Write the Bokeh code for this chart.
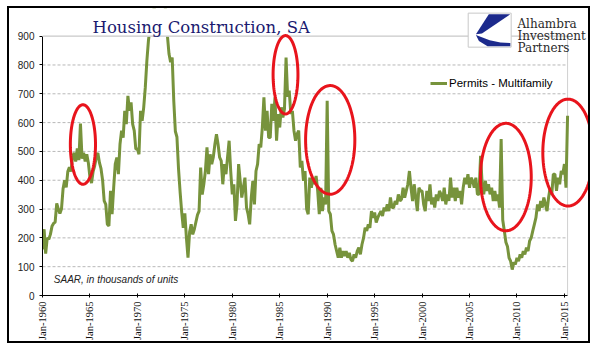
import numpy as np
from bokeh.plotting import figure
from bokeh.models import (Range1d, FixedTicker, Label, Legend, LegendItem,
                          PolyAnnotation, BoxAnnotation)
from bokeh.embed import file_html
from bokeh.resources import INLINE

# ---- data: multifamily permits, SAAR (thousands), every 2 months from Jan-1960 ----
v1960s = [
    160, 230, 145, 200, 195, 212,   # 1960
    240, 250, 255, 320, 300, 285,   # 1961
    300, 370, 400, 375, 430, 445,   # 1962
    430, 480, 495, 465, 510, 470,   # 1963
    597, 475, 495, 465, 490, 460,   # 1964
    410, 390, 430, 450, 480, 495,   # 1965
    461, 440, 400, 328, 316, 247,   # 1966
    241, 363, 282, 374, 456, 479,   # 1967
    421, 525, 572, 548, 641, 595,   # 1968
    693, 641, 670, 595, 572, 508,   # 1969
]
v1970s = [
    508, 490, 641, 606, 653, 722,   # 1970
    815, 885, 930, 960, 990, 1000,  # 1971
    1020, 1050, 1080, 1060, 1040, 1030,  # 1972
    980, 900, 838, 810, 826, 676,   # 1973
    570, 550, 440, 360, 290, 235,   # 1974
    285, 200, 131, 220, 247, 212,   # 1975
    230, 255, 280, 293, 444, 350,   # 1976
    386, 432, 514, 421, 490, 456,   # 1977
    480, 525, 560, 525, 479, 467,   # 1978
    386, 456, 421, 479, 537, 432,   # 1979
]
v1980s = [
    351, 386, 259, 316, 456, 398,   # 1980
    340, 374, 409, 305, 282, 247,   # 1981
    340, 398, 316, 432, 456, 525,   # 1982
    514, 583, 688, 572, 641, 548,   # 1983
    548, 665, 606, 688, 537, 630,   # 1984
    583, 653, 618, 647, 826, 690,   # 1985
    711, 630, 641, 572, 537, 560,   # 1986
    572, 444, 467, 398, 432, 300,   # 1987
    282, 409, 374, 409, 386, 415,   # 1988
    363, 282, 374, 293, 340, 316,   # 1989
]
v1990s = [
    676, 293, 282, 224, 212, 177,   # 1990
    154, 131, 166, 131, 154, 137,   # 1991
    154, 131, 148, 125, 119, 143,   # 1992
    131, 154, 166, 143, 177, 200,   # 1993
    235, 224, 247, 235, 293, 270,   # 1994
    288, 253, 270, 282, 293, 276,   # 1995
    305, 293, 316, 293, 340, 305,   # 1996
    305, 328, 316, 351, 328, 334,   # 1997
    374, 340, 363, 386, 432, 374,   # 1998
    328, 386, 340, 293, 374, 363,   # 1999
]
v2000s = [
    363, 316, 293, 363, 328, 386,   # 2000
    316, 340, 305, 351, 328, 363,   # 2001
    351, 328, 374, 316, 351, 328,   # 2002
    409, 340, 374, 328, 374, 340,   # 2003
    363, 316, 374, 409, 386, 421,   # 2004
    374, 409, 398, 374, 409, 351,   # 2005
    351, 485, 386, 351, 398, 363,   # 2006
    386, 351, 374, 328, 363, 328,   # 2007
    351, 305, 543, 262, 225, 185,   # 2008
    170, 131, 119, 90, 115, 108,    # 2009
]
v2010s = [
    131, 119, 143, 131, 154, 143,   # 2010
    166, 154, 189, 200, 224, 247,   # 2011
    270, 316, 293, 328, 305, 340,   # 2012
    316, 293, 340, 374, 351, 421,   # 2013
    421, 363, 409, 386, 432, 421,   # 2014
    456, 374, 624,                  # 2015 (Jan, Mar, May)
]
values = v1960s + v1970s + v1980s + v1990s + v2000s + v2010s
start_year = 1960
dates = start_year + np.arange(len(values)) / 6.0
x_first, x_last = float(dates[0]), float(dates[-1])

y_ticks = [0, 100, 200, 300, 400, 500, 600, 700, 800, 900]
y_max = 900
x_ticks = [1960, 1965, 1970, 1975, 1980, 1985, 1990, 1995, 2000, 2005, 2010, 2015]
x_tick_labels = ["Jan-%d" % y for y in x_ticks]

series_name = "Permits - Multifamily"
title_text = "Housing Construction, SA"
note_text = "SAAR, in thousands of units"
logo_lines = ["Alhambra", "Investment", "Partners"]

# highlight ellipses (centre year, centre value, width in years, height in units)
ell_cx = [1964.26, 1985.61, 1990.32, 2008.83, 2015.38]
ell_cy = [524, 766, 540, 411, 496]
ell_w = [2.65, 2.62, 5.19, 5.35, 5.31]
ell_h = [276, 272, 377, 373, 371]

# ---- figure ----
GREEN = "#77933c"
GRID = "#b8b8b8"
EDGE = "#d0d0d0"
p = figure(width=583, height=337, output_backend="svg", toolbar_location=None,
           x_range=Range1d(1960, 2017.96), y_range=Range1d(0, 996),
           min_border_left=33, min_border_right=0, min_border_top=0,
           min_border_bottom=50)
p.styles = {"border": "2px solid black", "margin-left": "7px", "margin-top": "6px"}
p.background_fill_color = "white"
p.border_fill_color = "white"
p.outline_line_color = None
p.xgrid.visible = False
p.ygrid.visible = False

ya = p.yaxis[0]
ya.ticker = FixedTicker(ticks=y_ticks)
ya.bounds = (0, y_max)
ya.axis_line_color = "black"
ya.major_tick_line_color = "black"
ya.major_tick_in = 0
ya.major_tick_out = 3
ya.minor_tick_line_color = None
ya.major_label_standoff = 5
ya.major_label_text_font = "Liberation Sans"
ya.major_label_text_font_size = "10px"
ya.major_label_text_color = "#222222"

xa = p.xaxis[0]
xa.ticker = FixedTicker(ticks=x_ticks)
xa.bounds = (x_first, x_last)
xa.major_label_overrides = {t: l for t, l in zip(x_ticks, x_tick_labels)}
xa.major_label_orientation = np.pi / 2
xa.axis_line_color = "black"
xa.major_tick_line_color = "black"
xa.major_tick_in = 2
xa.major_tick_out = 2
xa.minor_tick_line_color = None
xa.major_label_standoff = 4
xa.major_label_text_font = "Liberation Serif"
xa.major_label_text_font_size = "10.5px"
xa.major_label_text_color = "#111111"

# dashed gridlines over the data span, plus right edge of plot area
grid_vals = y_ticks[1:-1]
p.segment(x0=[x_first] * len(grid_vals), x1=[x_last] * len(grid_vals),
          y0=grid_vals, y1=grid_vals, line_color=GRID, line_dash="3 2",
          line_width=1)
p.segment(x0=[x_last], x1=[x_last], y0=[0], y1=[y_max], line_color=EDGE,
          line_width=1)

r = p.line(dates, values, line_color=GREEN, line_width=3)

# plot area ends at 900: cover above it, then draw top edge
p.add_layout(BoxAnnotation(left=1950, right=2030, bottom=y_max, top=1200,
                           fill_color="white", fill_alpha=1, line_color=None))
p.add_layout(BoxAnnotation(left=x_first, right=x_last, bottom=y_max, top=y_max,
                           fill_alpha=0, line_color=EDGE, line_alpha=1,
                           line_width=1))

legend = Legend(items=[LegendItem(label=series_name, renderers=[r])],
                location=(388, 206), padding=0, margin=0, spacing=0,
                glyph_width=17, glyph_height=12, label_height=12,
                label_standoff=2, border_line_color=None,
                background_fill_alpha=0,
                label_text_font="Liberation Sans",
                label_text_font_size="11.5px", label_text_color="black")
p.add_layout(legend)

# ellipses
t = np.linspace(0, 2 * np.pi, 120)
for cx, cy, w, h in zip(ell_cx, ell_cy, ell_w, ell_h):
    p.add_layout(PolyAnnotation(xs=list(cx + w / 2 * np.cos(t)),
                                ys=list(cy + h / 2 * np.sin(t)),
                                fill_alpha=0, line_color="#e8141c",
                                line_alpha=1, line_width=3))

# note
p.add_layout(Label(x=1961.19, y=54.5, text=note_text, text_font="Liberation Sans",
                   text_font_style="italic", text_font_size="10px",
                   text_color="#222222", text_baseline="middle"))

# title
p.add_layout(Label(x=1965.27, y=931, text=title_text, text_font="DejaVu Serif",
                   text_font_size="16.5px", text_color="#1a1a70",
                   text_baseline="alphabetic"))

# logo
bl, br, bb, bt = 2004.86, 2009.39, 861.8, 979.9
p.add_layout(BoxAnnotation(left=bl, right=br, bottom=bb, top=bt,
                           fill_color="white", fill_alpha=1,
                           line_color="#c8c8c8", line_alpha=1, line_width=1))
def rel(us, vs):
    return ([bl + u * (br - bl) for u in us], [bb + v * (bt - bb) for v in vs])
lx, ly = rel([0.48, 0.98, 0.32, 0.18], [0.97, 0.97, 0.40, 0.38])
p.add_layout(PolyAnnotation(xs=lx, ys=ly, fill_color="#1c2a8c", fill_alpha=1,
                            line_color=None))
lx, ly = rel([0.18, 0.50, 0.75, 0.98, 0.98, 0.45, 0.25],
             [0.36, 0.20, 0.14, 0.12, 0.03, 0.03, 0.18])
p.add_layout(PolyAnnotation(xs=lx, ys=ly, fill_color="#1c2a8c", fill_alpha=1,
                            line_color=None))
for txt, yv in zip(logo_lines, [940.6, 899.0, 859.8]):
    p.add_layout(Label(x=2010.05, y=yv, text=txt, text_font="DejaVu Serif",
                       text_font_size="12px", text_color="#2a2a2a",
                       text_baseline="alphabetic"))

open("out.html", "w").write(file_html(p, INLINE))
